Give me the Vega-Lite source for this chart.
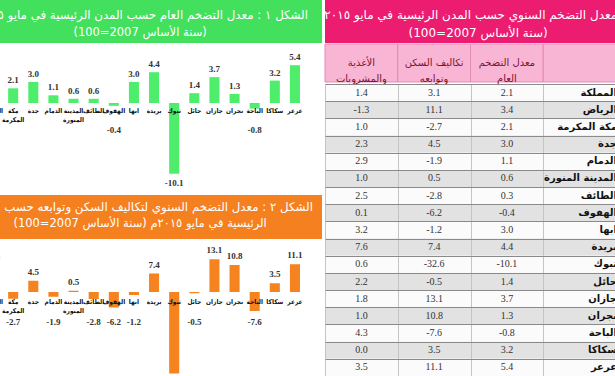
{
  "$schema": "https://vega.github.io/schema/vega-lite/v6.json",
  "padding": 0,
  "background": "white",
  "spacing": 2,
  "config": {"view": {"stroke": null}, "font": "DejaVu Sans"},
  "datasets": {
    "charts": [
      {"city": "الرياض", "general": 3.4, "housing": 11.1},
      {"city": "مكة المكرمة", "general": 2.1, "housing": -2.7},
      {"city": "جدة", "general": 3.0, "housing": 4.5},
      {"city": "الدمام", "general": 1.1, "housing": -1.9},
      {"city": "المدينة المنورة", "general": 0.6, "housing": 0.5},
      {"city": "الطائف", "general": 0.6, "housing": -2.8},
      {"city": "الهفوف", "general": -0.4, "housing": -6.2},
      {"city": "ابها", "general": 3.0, "housing": -1.2},
      {"city": "بريدة", "general": 4.4, "housing": 7.4},
      {"city": "تبوك", "general": -10.1, "housing": -32.6},
      {"city": "حائل", "general": 1.4, "housing": -0.5},
      {"city": "جازان", "general": 3.7, "housing": 13.1},
      {"city": "نجران", "general": 1.3, "housing": 10.8},
      {"city": "الباحة", "general": -0.8, "housing": -7.6},
      {"city": "سكاكا", "general": 3.2, "housing": 3.5},
      {"city": "عرعر", "general": 5.4, "housing": 11.1}
    ],
    "table": [
      {"city": "المملكة", "general": 2.1, "housing": 3.1, "food": 1.4},
      {"city": "الرياض", "general": 3.4, "housing": 11.1, "food": -1.3},
      {"city": "مكة المكرمة", "general": 2.1, "housing": -2.7, "food": 1.0},
      {"city": "جدة", "general": 3.0, "housing": 4.5, "food": 2.3},
      {"city": "الدمام", "general": 1.1, "housing": -1.9, "food": 2.9},
      {"city": "المدينة المنورة", "general": 0.6, "housing": 0.5, "food": 1.0},
      {"city": "الطائف", "general": 0.3, "housing": -2.8, "food": 2.5},
      {"city": "الهفوف", "general": -0.4, "housing": -6.2, "food": 0.1},
      {"city": "ابها", "general": 3.0, "housing": -1.2, "food": 3.2},
      {"city": "بريدة", "general": 4.4, "housing": 7.4, "food": 7.6},
      {"city": "تبوك", "general": -10.1, "housing": -32.6, "food": 0.6},
      {"city": "حائل", "general": 1.4, "housing": -0.5, "food": 2.2},
      {"city": "جازان", "general": 3.7, "housing": 13.1, "food": 1.8},
      {"city": "نجران", "general": 1.3, "housing": 10.8, "food": 1.0},
      {"city": "الباحة", "general": -0.8, "housing": -7.6, "food": 4.3},
      {"city": "سكاكا", "general": 3.2, "housing": 3.5, "food": 0.0},
      {"city": "عرعر", "general": 5.4, "housing": 11.1, "food": 3.5}
    ]
  },
  "hconcat": [
    {
      "spacing": 0,
      "vconcat": [
        {
          "width": 322, "height": 43,
          "view": {"fill": "#42e05c", "stroke": null},
          "data": {"values": [{"l1": "الشكل ١ : معدل التضخم العام حسب المدن الرئيسية في مايو ٢٠١٥م", "l2": "(سنة الأساس 2007=100)"}]},
          "layer": [
            {"mark": {"type": "text", "y": 15, "align": "right", "baseline": "middle", "fontSize": 11.8, "color": "white", "clip": true},
             "encoding": {"x": {"datum": 0.9565, "type": "quantitative", "scale": {"domain": [0, 1], "nice": false, "zero": false}, "axis": null}, "text": {"field": "l1", "type": "nominal"}}},
            {"mark": {"type": "text", "y": 33, "align": "center", "baseline": "middle", "fontSize": 11.5, "color": "white", "clip": true},
             "encoding": {"x": {"datum": 0.435, "type": "quantitative"}, "text": {"field": "l2", "type": "nominal"}}}
          ]
        },
        {
          "width": 322, "height": 152,
          "data": {"name": "charts"},
          "encoding": {
            "x": {"field": "city", "type": "nominal", "sort": null, "scale": {"range": [-17, 305], "paddingInner": 0.5, "paddingOuter": 0.25}, "axis": null}
          },
          "layer": [
            {"mark": {"type": "bar", "color": "#4eee6c", "clip": true},
             "encoding": {"y": {"field": "general", "type": "quantitative", "scale": {"domain": [-13.14, 8.57], "nice": false, "zero": true}, "axis": null}}},
            {"transform": [{"filter": "datum.general >= 0"}, {"calculate": "replace(format(datum.general, '.1f'), '−', '-')", "as": "lab"}],
             "mark": {"type": "text", "baseline": "bottom", "dy": -3, "font": "Liberation Serif", "fontWeight": "bold", "fontSize": 9, "color": "#333", "clip": true},
             "encoding": {"y": {"field": "general", "type": "quantitative"}, "text": {"field": "lab", "type": "nominal"}}},
            {"transform": [{"filter": "datum.general < 0"}, {"calculate": "min(datum.general, -2.5)", "as": "ly"}, {"calculate": "replace(format(datum.general, '.1f'), '−', '-')", "as": "lab"}],
             "mark": {"type": "text", "baseline": "middle", "dy": 9, "font": "Liberation Serif", "fontWeight": "bold", "fontSize": 9, "color": "#333", "clip": true},
             "encoding": {"y": {"field": "ly", "type": "quantitative"}, "text": {"field": "lab", "type": "nominal"}}},
            {"mark": {"type": "text", "baseline": "top", "dy": 5, "lineBreak": " ", "lineHeight": 9, "font": "DejaVu Sans Condensed", "fontWeight": "bold", "fontSize": 6.5, "color": "#111", "clip": true},
             "encoding": {"y": {"datum": 0, "type": "quantitative"}, "text": {"field": "city", "type": "nominal"}}}
          ]
        },
        {
          "width": 322, "height": 44,
          "view": {"fill": "#f5801f", "stroke": null},
          "data": {"values": [{"l1": "الشكل ٢ : معدل التضخم السنوي لتكاليف السكن وتوابعه حسب", "l2": "الرئيسية في مايو ٢٠١٥م (سنة الأساس 2007=100)"}]},
          "layer": [
            {"mark": {"type": "text", "y": 12, "align": "right", "baseline": "middle", "fontSize": 11.8, "color": "white", "clip": true},
             "encoding": {"x": {"datum": 0.972, "type": "quantitative", "scale": {"domain": [0, 1], "nice": false, "zero": false}, "axis": null}, "text": {"field": "l1", "type": "nominal"}}},
            {"mark": {"type": "text", "y": 29, "align": "center", "baseline": "middle", "fontSize": 11.5, "color": "white", "clip": true},
             "encoding": {"x": {"datum": 0.435, "type": "quantitative"}, "text": {"field": "l2", "type": "nominal"}}}
          ]
        },
        {
          "width": 322, "height": 137,
          "data": {"name": "charts"},
          "encoding": {
            "x": {"field": "city", "type": "nominal", "sort": null, "scale": {"range": [-17, 305], "paddingInner": 0.5, "paddingOuter": 0.25}, "axis": null}
          },
          "layer": [
            {"mark": {"type": "bar", "color": "#f5831f", "clip": true},
             "encoding": {"y": {"field": "housing", "type": "quantitative", "scale": {"domain": [-33.6, 21.2], "nice": false, "zero": true}, "axis": null}}},
            {"transform": [{"filter": "datum.housing >= 0"}, {"calculate": "replace(format(datum.housing, '.1f'), '−', '-')", "as": "lab"}],
             "mark": {"type": "text", "baseline": "bottom", "dy": -4, "font": "Liberation Serif", "fontWeight": "bold", "fontSize": 9, "color": "#333", "clip": true},
             "encoding": {"y": {"field": "housing", "type": "quantitative"}, "text": {"field": "lab", "type": "nominal"}}},
            {"transform": [{"filter": "datum.housing < 0"}, {"calculate": "min(datum.housing, -8)", "as": "ly"}, {"calculate": "replace(format(datum.housing, '.1f'), '−', '-')", "as": "lab"}],
             "mark": {"type": "text", "baseline": "middle", "dy": 10, "font": "Liberation Serif", "fontWeight": "bold", "fontSize": 9, "color": "#333", "clip": true},
             "encoding": {"y": {"field": "ly", "type": "quantitative"}, "text": {"field": "lab", "type": "nominal"}}},
            {"mark": {"type": "text", "baseline": "top", "dy": 7, "lineBreak": " ", "lineHeight": 9, "font": "DejaVu Sans Condensed", "fontWeight": "bold", "fontSize": 6.5, "color": "#111", "clip": true},
             "encoding": {"y": {"datum": 0, "type": "quantitative"}, "text": {"field": "city", "type": "nominal"}}}
          ]
        }
      ]
    },
    {
      "spacing": 0,
      "vconcat": [
        {
          "width": 291, "height": 43,
          "view": {"fill": "#ec1c71", "stroke": null},
          "data": {"values": [{"l1": "معدل التضخم السنوي حسب المدن الرئيسية في مايو ٢٠١٥م", "l2": "(سنة الأساس 2007=100)"}]},
          "layer": [
            {"mark": {"type": "text", "y": 15, "align": "right", "baseline": "middle", "fontSize": 12, "color": "white", "clip": true},
             "encoding": {"x": {"datum": 1.004, "type": "quantitative", "scale": {"domain": [0, 1], "nice": false, "zero": false}, "axis": null}, "text": {"field": "l1", "type": "nominal"}}},
            {"mark": {"type": "text", "y": 33, "align": "center", "baseline": "middle", "fontSize": 12, "color": "white", "clip": true},
             "encoding": {"x": {"datum": 0.526, "type": "quantitative"}, "text": {"field": "l2", "type": "nominal"}}}
          ]
        },
        {
          "width": 291, "height": 38,
          "data": {"values": [
            {"col": "food", "label": "الأغذية\nوالمشروبات"},
            {"col": "housing", "label": "تكاليف السكن\nوتوابعه"},
            {"col": "general", "label": "معدل التضخم\nالعام"},
            {"col": "city", "label": ""}
          ]},
          "encoding": {"x": {"field": "col", "type": "nominal", "sort": null, "scale": {"domain": ["food", "housing", "general", "city"], "paddingInner": 0, "paddingOuter": 0}, "axis": null}},
          "layer": [
            {"mark": {"type": "rect", "fill": "#f8b6d4", "stroke": "#e48bb3", "strokeWidth": 1}},
            {"mark": {"type": "text", "lineBreak": "\n", "lineHeight": 16, "fontSize": 10, "color": "#7d1232", "baseline": "middle"}, "encoding": {"text": {"field": "label", "type": "nominal"}}}
          ]
        },
        {
          "width": 291, "height": 292,
          "data": {"name": "table"},
          "transform": [{"window": [{"op": "row_number", "as": "rn"}]}],
          "encoding": {
            "y": {"field": "city", "type": "nominal", "sort": null, "scale": {"paddingInner": 0, "paddingOuter": 0},
                  "axis": {"grid": true, "tickBand": "extent", "labels": false, "ticks": false, "domain": false, "title": null, "gridColor": "#8a8a8a", "gridWidth": 1.2, "zindex": 1}}
          },
          "layer": [
            {"mark": {"type": "rect"}, "encoding": {"fill": {"condition": {"test": "datum.rn % 2 == 0", "value": "#e2e2e2"}, "value": "#fbfbfb"}}},
            {"transform": [{"fold": ["food", "housing", "general"], "as": ["col", "val"]}, {"calculate": "replace(format(datum.val, '.1f'), '−', '-')", "as": "lab"}],
             "mark": {"type": "text", "font": "Liberation Serif", "fontSize": 10, "color": "#333"},
             "encoding": {
               "x": {"field": "col", "type": "nominal", "scale": {"domain": ["food", "housing", "general", "city"], "paddingInner": 0, "paddingOuter": 0},
                     "axis": {"grid": true, "tickBand": "extent", "labels": false, "ticks": false, "domain": false, "title": null, "gridColor": "#c4c4c4", "zindex": 1, "orient": "top"}},
               "text": {"field": "lab", "type": "nominal"}
             }},
            {"mark": {"type": "text", "x": "width", "align": "right", "dx": 1, "fontSize": 10, "fontWeight": "bold", "color": "#111", "clip": true},
             "encoding": {"text": {"field": "city", "type": "nominal"}}}
          ]
        }
      ]
    }
  ]
}
